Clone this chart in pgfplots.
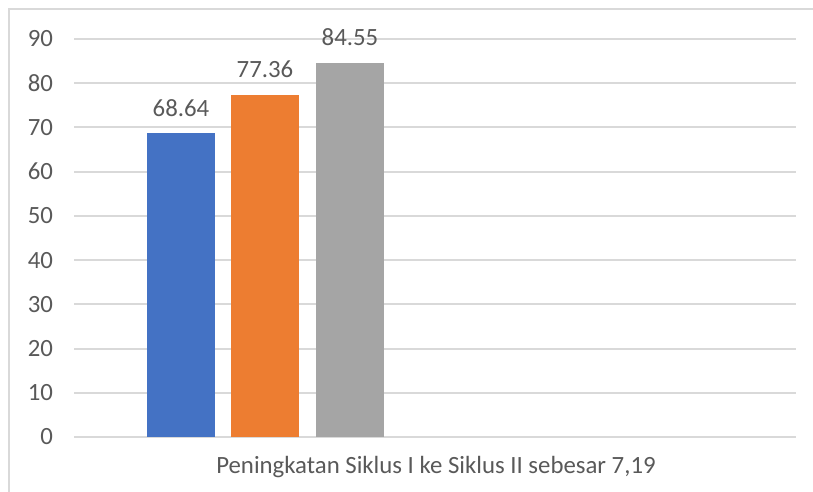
\documentclass[border=0pt]{standalone}
\usepackage{fontspec}
\setmainfont{Carlito}
\usepackage{pgfplots}
\pgfplotsset{compat=1.18}
\definecolor{txt}{HTML}{595959}
\definecolor{gridc}{HTML}{D9D9D9}
\definecolor{cblue}{HTML}{4472C4}
\definecolor{corange}{HTML}{ED7D31}
\definecolor{cgray}{HTML}{A5A5A5}
\begin{document}
\begin{tikzpicture}
\path[use as bounding box] (0pt,0pt) rectangle (406.5pt,-246pt);
\draw[gridc, line width=1pt] (4.5pt,-246pt) -- (4.5pt,-4.5pt) -- (406.5pt,-4.5pt);
\begin{axis}[
  at={(37pt,-218.5pt)}, anchor=origin,
  scale only axis, width=361pt, height=199pt,
  xmin=74, xmax=796, ymin=0, ymax=90,
  ytick={0,10,...,90},
  xtick={436}, xticklabels={Peningkatan Siklus I ke Siklus II sebesar 7{,}19},
  axis line style={draw=none},
  ymajorgrids, xmajorgrids=false, grid style={gridc, line width=1pt},
  major tick length=0pt,
  tick label style={font=\fontsize{12.4}{14}\selectfont, text=txt},
  yticklabel style={xshift=-7pt},
  xticklabel style={yshift=-6pt},
  /pgf/number format/assume math mode=true,
  ybar, bar width=68,
  nodes near coords,
  nodes near coords style={font=\fontsize{12.4}{14}\selectfont, text=txt, /pgf/number format/fixed, /pgf/number format/precision=2, /pgf/number format/fixed zerofill, yshift=5pt},
  clip=false,
]
\addplot[fill=cblue, draw=none, bar shift=0pt] coordinates {(181,68.64)};
\addplot[fill=corange, draw=none, bar shift=0pt] coordinates {(265,77.36)};
\addplot[fill=cgray, draw=none, bar shift=0pt] coordinates {(350,84.55)};
\end{axis}
\end{tikzpicture}
\end{document}
